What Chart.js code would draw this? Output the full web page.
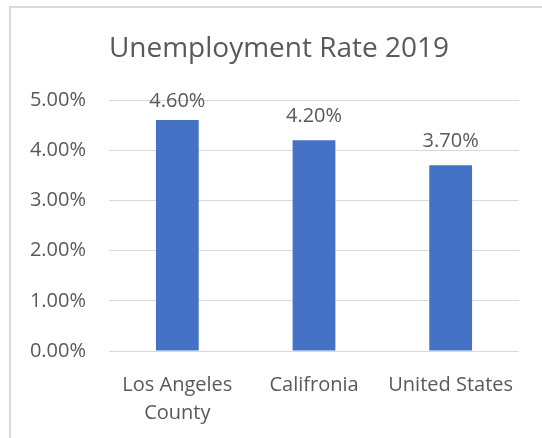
<!DOCTYPE html>
<html lang="en">
<head>
    <meta charset="UTF-8">
    <title>Unemployment Rate 2019</title>
    <script src="https://cdn.jsdelivr.net/npm/chart.js"></script>
    <style>
        body { margin: 0; background: #fff; }
        #frame {
            position: absolute; left: 9px; top: 6px;
            width: 600px; height: 500px;
            border-left: 2px solid #d9d9d9; border-top: 2px solid #d9d9d9;
        }
        #wrap { position: absolute; left: 0; top: 0; width: 542px; height: 438px; }
    </style>
</head>
<body>
    <div id="frame"></div>
    <div id="wrap">
        <canvas id="rateChart" width="542" height="438"></canvas>
    </div>

    <script>
        // Unemployment rate, percent
        const regions = [['Los Angeles', 'County'], 'Califronia', 'United States'];
        const rates = [4.6, 4.2, 3.7];
        const yMin = 0, yMax = 5, yStep = 1;
        const chartTitle = 'Unemployment Rate 2019';

        const textColor = '#595959';
        const gridColor = '#d9d9d9';
        const barColor = '#4472c4';
        const labelFont = '"Open Sans"';

        // title sits over the whole chart box, not just the plot
        const boxTitle = {
            id: 'boxTitle',
            afterDraw(chart) {
                const ctx = chart.ctx;
                ctx.save();
                ctx.font = '28px ' + labelFont;
                ctx.fillStyle = textColor;
                ctx.textAlign = 'center';
                ctx.textBaseline = 'alphabetic';
                ctx.fillText(chartTitle, 279, 57);
                ctx.restore();
            }
        };

        // value labels above each bar, kept inside the plot
        const valueLabels = {
            id: 'valueLabels',
            afterDatasetsDraw(chart) {
                const ctx = chart.ctx;
                const meta = chart.getDatasetMeta(0);
                ctx.save();
                ctx.font = '20px ' + labelFont;
                ctx.fillStyle = textColor;
                ctx.textAlign = 'center';
                ctx.textBaseline = 'alphabetic';
                meta.data.forEach((bar, i) => {
                    const y = Math.max(bar.y - 18, chart.chartArea.top + 7);
                    ctx.fillText(rates[i].toFixed(2) + '%', bar.x, y);
                });
                ctx.restore();
            }
        };

        const ctx = document.getElementById('rateChart').getContext('2d');
        new Chart(ctx, {
            type: 'bar',
            data: {
                labels: regions,
                datasets: [{
                    data: rates,
                    backgroundColor: barColor,
                    barPercentage: 0.313,
                    categoryPercentage: 1
                }]
            },
            options: {
                responsive: false,
                animation: false,
                layout: { padding: { left: 0, right: 23, top: 100, bottom: 0 } },
                plugins: {
                    legend: { display: false },
                    tooltip: { enabled: false }
                },
                scales: {
                    x: {
                        grid: { display: false },
                        border: { display: false },
                        ticks: {
                            color: textColor,
                            font: { family: labelFont, size: 20, lineHeight: 1.4 },
                            padding: 12,
                            maxRotation: 0,
                            autoSkip: false
                        },
                        afterFit(scale) { scale.height = 87; }
                    },
                    y: {
                        min: yMin,
                        max: yMax,
                        grid: { color: gridColor, lineWidth: 1, drawTicks: false },
                        border: { display: false },
                        ticks: {
                            stepSize: yStep,
                            color: textColor,
                            font: { family: labelFont, size: 20 },
                            padding: 23,
                            callback: v => v.toFixed(2) + '%'
                        },
                        afterFit(scale) { scale.width = 109; }
                    }
                }
            },
            plugins: [valueLabels, boxTitle]
        });
    </script>
</body>
</html>
